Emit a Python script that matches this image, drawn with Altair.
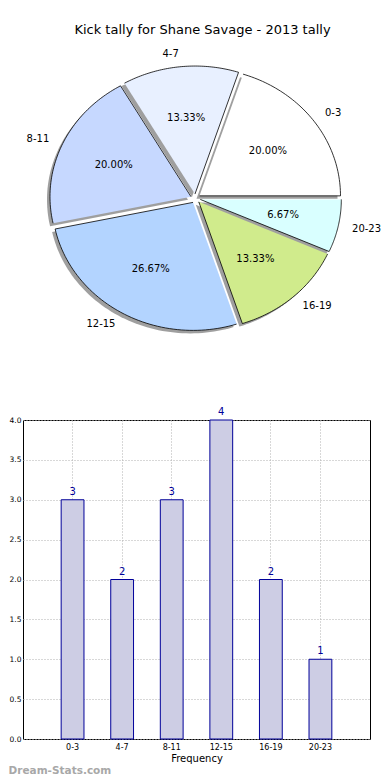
import altair as alt
import pandas as pd

# ---- data ----
categories = ["0-3", "4-7", "8-11", "12-15", "16-19", "20-23"]
counts = [3, 2, 3, 4, 2, 1]
wedge_colors = ["#ffffff", "#e8f0ff", "#c6d8ff", "#b3d4ff", "#d0eb8c", "#d9ffff"]
title_text = "Kick tally for Shane Savage - 2013 tally"
y_ticks = [0.0, 0.5, 1.0, 1.5, 2.0, 2.5, 3.0, 3.5, 4.0]

df = pd.DataFrame({"cat": categories, "count": counts, "idx": list(range(len(categories)))})

FONT = "DejaVu Sans"
EXPLODE = 0.035
NPTS = 60

# pie panel geometry (data units: radius = 1)
ORIGIN = 23  # page x of panel origin (after the bar panel's y-axis labels)
PIE_W, PIE_H = 382 - ORIGIN, 300
RX, RY = 141.0, 128.0
CX_PIX, CY_PIX = 195.5 - ORIGIN, 157.5
x_dom = [-CX_PIX / RX, (PIE_W - CX_PIX) / RX]
y_dom = [-(PIE_H - CY_PIX) / RY, CY_PIX / RY]

base = alt.Chart(df).transform_joinaggregate(
    total="sum(count)"
).transform_window(
    cum="sum(count)", sort=[alt.SortField("idx")], frame=[None, 0]
).transform_calculate(
    a0="2*PI*(datum.cum - datum.count)/datum.total",
    a1="2*PI*datum.cum/datum.total",
).transform_calculate(
    mid="(datum.a0 + datum.a1)/2"
).transform_calculate(
    ex=f"{EXPLODE}*cos(datum.mid)",
    ey=f"{EXPLODE}*sin(datum.mid)",
)

poly = base.transform_calculate(
    step=f"sequence(0, {NPTS + 1})"
).transform_flatten(["step"]).transform_calculate(
    ang=f"datum.a0 + (datum.a1 - datum.a0)*(datum.step - 1)/{NPTS - 1}"
).transform_calculate(
    px="datum.step == 0 ? datum.ex : datum.ex + cos(datum.ang)",
    py="datum.step == 0 ? datum.ey : datum.ey + sin(datum.ang)",
)

xs = alt.Scale(domain=x_dom, nice=False, zero=False)
ys = alt.Scale(domain=y_dom, nice=False, zero=False)

shadow = poly.mark_line(
    fill="#404040", fillOpacity=0.5, strokeOpacity=0, xOffset=-3, yOffset=3
).encode(
    x=alt.X("px:Q", scale=xs, axis=None),
    y=alt.Y("py:Q", scale=ys, axis=None),
    order="step:Q",
    detail="cat:N",
)

wedges = poly.mark_line(stroke="black", strokeWidth=0.8, strokeJoin="miter").encode(
    x=alt.X("px:Q", scale=xs, axis=None),
    y=alt.Y("py:Q", scale=ys, axis=None),
    order="step:Q",
    detail="cat:N",
    fill=alt.Fill("cat:N", scale=alt.Scale(domain=categories, range=wedge_colors), legend=None),
)

lab = base.transform_calculate(
    lx="datum.ex + 1.1*cos(datum.mid)",
    ly="datum.ey + 1.1*sin(datum.mid)",
    tx="datum.ex + 0.6*cos(datum.mid)",
    ty="datum.ey + 0.6*sin(datum.mid)",
    pct="format(datum.count/datum.total, '.2%')",
)

lab_right = lab.transform_filter("cos(datum.mid) > 0").mark_text(
    align="left", baseline="middle", font=FONT, fontSize=10, color="black"
).encode(x=alt.X("lx:Q", scale=xs, axis=None), y=alt.Y("ly:Q", scale=ys, axis=None), text="cat:N")

lab_left = lab.transform_filter("cos(datum.mid) <= 0").mark_text(
    align="right", baseline="middle", font=FONT, fontSize=10, color="black"
).encode(x=alt.X("lx:Q", scale=xs, axis=None), y=alt.Y("ly:Q", scale=ys, axis=None), text="cat:N")

pct = lab.mark_text(
    align="center", baseline="middle", font=FONT, fontSize=10, color="black"
).encode(x=alt.X("tx:Q", scale=xs, axis=None), y=alt.Y("ty:Q", scale=ys, axis=None), text="pct:N")

pie = alt.layer(shadow, wedges, lab_right, lab_left, pct).properties(
    width=PIE_W, height=PIE_H,
    view=alt.ViewBackground(strokeOpacity=0),
    title=alt.TitleParams(title_text, font=FONT, fontSize=13, fontWeight="normal",
                          color="black", anchor="middle", offset=4),
)

# ---- bar panel ----
bar_base = alt.Chart(df)
bx = alt.X("cat:N", sort=categories,
           scale=alt.Scale(paddingInner=0.54, paddingOuter=0.77),
           axis=alt.Axis(title="Frequency", labelAngle=0, bandPosition=0.5, grid=True,
                         gridDash=[1, 2], gridColor="#b0b0b0", ticks=False, domain=False,
                         labelFont=FONT, labelFontSize=8, labelPadding=4,
                         titleFont=FONT, titleFontSize=10, titleFontWeight="normal",
                         titlePadding=2))
by = alt.Y("count:Q", scale=alt.Scale(domain=[0, 4], nice=False),
           axis=alt.Axis(title=None, values=y_ticks, format=".1f", grid=True,
                         tickCount=9, tickMinStep=0.5,
                         gridDash=[1, 2], gridColor="#b0b0b0", ticks=False, domain=False,
                         labelOverlap=False, labelFont=FONT, labelFontSize=7.5,
                         labelPadding=2))

bars = bar_base.mark_bar(fill="#cdcde4", stroke="#000099", strokeWidth=1).encode(x=bx, y=by)
vals = bar_base.mark_text(baseline="bottom", dy=-3, font=FONT, fontSize=10, color="#000099").encode(
    x=bx, y=by, text="count:Q")

bar = alt.layer(bars, vals).properties(width=370 - ORIGIN, height=319)

chart = alt.vconcat(pie, bar, spacing=65).properties(
    padding={"left": 0, "top": 16, "right": 0, "bottom": 0},
    title=alt.TitleParams("Dream-Stats.com", orient="bottom", anchor="start", font=FONT,
                          fontSize=10.5, fontWeight="bold", color="#a8a8a8", offset=2),
).configure_view(stroke="black", strokeWidth=1).configure_axis(labelColor="black")

chart.save("out.html", embed_options={"renderer": "svg", "actions": False})
